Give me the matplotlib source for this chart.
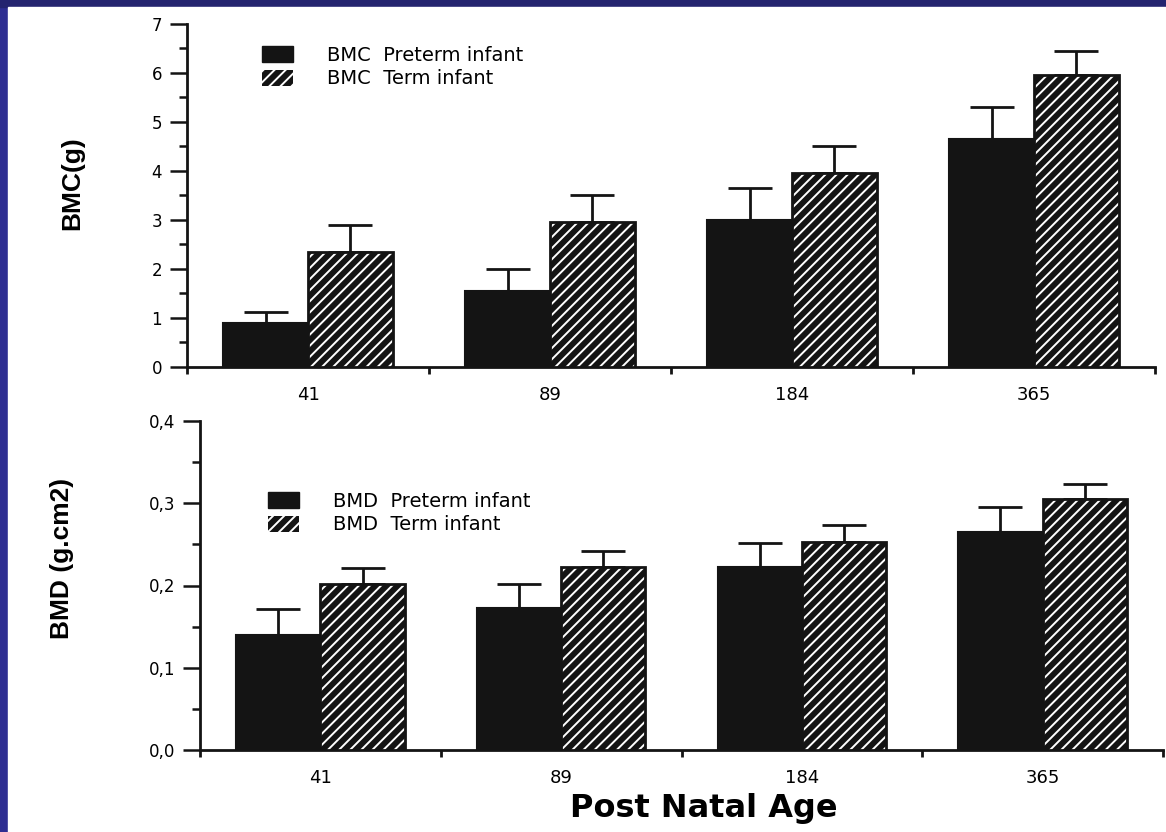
import numpy as np
import matplotlib
matplotlib.use("Agg")
import matplotlib.pyplot as plt
from matplotlib.patches import Patch, Rectangle

# Post natal age groups (days)
ages = ["41", "89", "184", "365"]

# Bone mineral content (g): means and top of SD bars
bmc_preterm = [0.9, 1.55, 3.0, 4.65]
bmc_preterm_top = [1.12, 2.0, 3.65, 5.3]
bmc_term = [2.35, 2.95, 3.95, 5.95]
bmc_term_top = [2.9, 3.5, 4.5, 6.45]

# Bone mineral density (g/cm2): means and top of SD bars
bmd_preterm = [0.140, 0.173, 0.222, 0.265]
bmd_preterm_top = [0.172, 0.202, 0.252, 0.295]
bmd_term = [0.202, 0.222, 0.253, 0.305]
bmd_term_top = [0.221, 0.242, 0.274, 0.323]

bmc_yticks = [0, 1, 2, 3, 4, 5, 6, 7]
bmc_yticklabels = ["0", "1", "2", "3", "4", "5", "6", "7"]
bmd_yticks = [0.0, 0.1, 0.2, 0.3, 0.4]
bmd_yticklabels = ["0,0", "0,1", "0,2", "0,3", "0,4"]

W, H = 1166, 832
DARK = "#141414"

plt.rcParams["hatch.linewidth"] = 1.4
plt.rcParams["font.family"] = ["DejaVu Sans"]

fig = plt.figure(figsize=(W / 100, H / 100), dpi=100)
fig.patch.set_facecolor("#2e2e92")
fig.add_artist(Rectangle((0, 1 - 7 / H), 1, 7 / H, transform=fig.transFigure,
                         color="#24246f", zorder=-2))
fig.add_artist(Rectangle((8 / W, 0), 1, 1 - 7 / H, transform=fig.transFigure,
                         color="white", zorder=-1))


def panel(ax, pre, pre_top, term, term_top, ymax, yticks, yticklabels,
          minor_step, ylabel, ylabel_xy, labels, leg_xy):
    n = len(ages)
    x = np.arange(n) + 0.5
    w = 0.35
    pre = np.array(pre)
    term = np.array(term)

    # solid bars (preterm)
    ax.bar(x - w / 2, pre, w, color=DARK, edgecolor=DARK, linewidth=1.5, zorder=3)
    # hatched bars (term): white stripes on black, then a dark outline
    ax.bar(x + w / 2, term, w, color=DARK, edgecolor="white", hatch="///",
           linewidth=0, zorder=3)
    ax.bar(x + w / 2, term, w, fill=False, edgecolor=DARK, linewidth=2, zorder=4)

    # upward-only SD bars
    for xs, v, top in ((x - w / 2, pre, pre_top), (x + w / 2, term, term_top)):
        up = np.array(top) - v
        ax.errorbar(xs, v, yerr=[np.zeros(n), up], fmt="none", ecolor=DARK,
                    elinewidth=2, capsize=16, capthick=2, zorder=2)

    ax.set_xlim(0, n)
    ax.set_ylim(0, ymax)
    for s in ("top", "right"):
        ax.spines[s].set_visible(False)
    for s in ("left", "bottom"):
        ax.spines[s].set_linewidth(2)
        ax.spines[s].set_color(DARK)

    ax.set_yticks(yticks)
    ax.set_yticklabels(yticklabels)
    ax.set_yticks(np.arange(0, ymax + 1e-9, minor_step), minor=True)
    ax.tick_params(axis="y", which="major", length=12, width=1.8, pad=6,
                   labelsize=12, color=DARK)
    ax.tick_params(axis="y", which="minor", length=6, width=1.8, color=DARK)

    ax.set_xticks(np.arange(n + 1))
    ax.set_xticklabels([])
    ax.set_xticks(x, minor=True)
    ax.set_xticklabels(ages, minor=True)
    ax.tick_params(axis="x", which="major", length=5, width=2, color=DARK)
    ax.tick_params(axis="x", which="minor", length=0, pad=14, labelsize=13)

    fig.text(ylabel_xy[0] / W, 1 - ylabel_xy[1] / H, ylabel, rotation=90,
             ha="center", va="center", fontsize=19, fontweight="bold",
             family=["Liberation Sans", "DejaVu Sans"])

    handles = [Patch(facecolor=DARK, edgecolor=DARK),
               Patch(facecolor=DARK, edgecolor="white", hatch="///", linewidth=0)]
    ax.legend(handles, labels, loc="upper left",
              bbox_to_anchor=(leg_xy[0] / W, 1 - leg_xy[1] / H),
              bbox_transform=fig.transFigure, frameon=False, fontsize=14,
              borderpad=0, borderaxespad=0, handlelength=1.6, handleheight=0.9,
              handletextpad=1.75, labelspacing=0.22)


ax1 = fig.add_axes([187 / W, 1 - 367 / H, (1155 - 187) / W, (367 - 24) / H])
panel(ax1, bmc_preterm, bmc_preterm_top, bmc_term, bmc_term_top, 7,
      bmc_yticks, bmc_yticklabels, 0.5, "BMC(g)", (72, 183),
      ["BMC  Preterm infant", "BMC  Term infant"], (262, 46))

ax2 = fig.add_axes([200 / W, 1 - 750 / H, (1163 - 200) / W, (750 - 421) / H])
panel(ax2, bmd_preterm, bmd_preterm_top, bmd_term, bmd_term_top, 0.4,
      bmd_yticks, bmd_yticklabels, 0.05, "BMD (g.cm2)", (62, 558),
      ["BMD  Preterm infant", "BMD  Term infant"], (268, 492))

fig.text(704 / W, 1 - 808 / H, "Post Natal Age", ha="center", va="center",
         fontsize=23, fontweight="bold")

fig.savefig("out.png", dpi=100, facecolor=fig.get_facecolor())
